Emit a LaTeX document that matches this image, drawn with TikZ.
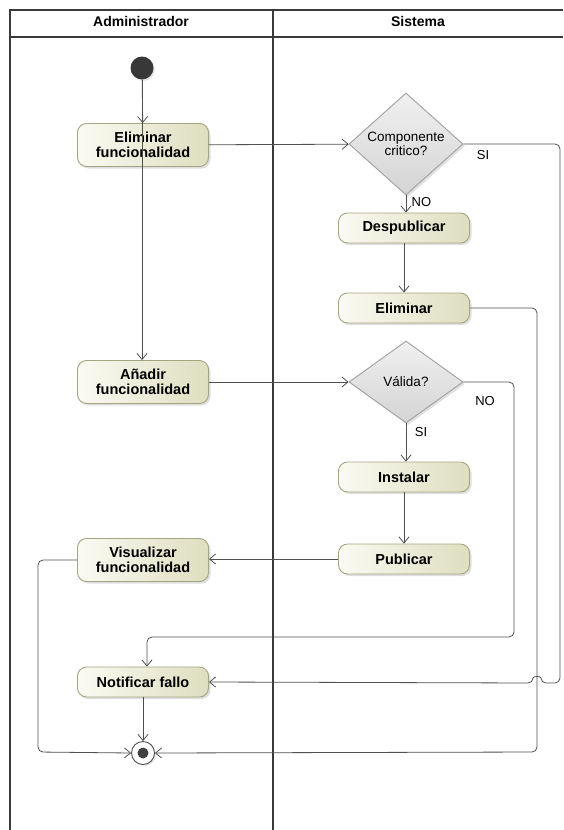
\documentclass[tikz,border=0pt]{standalone}
\usepackage{fontspec}
\setmainfont{Liberation Sans}
\usetikzlibrary{arrows.meta,shapes.geometric,shadows}
\definecolor{lane}{HTML}{3A3A3A}
\definecolor{edge}{HTML}{505050}
\definecolor{actA}{HTML}{FAFAF2}
\definecolor{actB}{HTML}{DEDEC0}
\definecolor{actBorder}{HTML}{A5A582}
\definecolor{decA}{HTML}{F0F0F0}
\definecolor{decB}{HTML}{D4D4D4}
\definecolor{decBorder}{HTML}{A0A0A0}
\tikzset{
  x=1pt, y=-1pt,
  action/.style={rectangle, rounded corners=9pt, draw=actBorder, line width=0.9pt,
    left color=actA, right color=actB, minimum width=131pt, align=center,
    inner sep=2pt, font=\fontsize{14.5}{14.5}\selectfont\bfseries,
    drop shadow={opacity=0.25, shadow xshift=2pt, shadow yshift=-2pt}},
  decision/.style={diamond, draw=decBorder, line width=0.9pt, top color=decA, bottom color=decB,
    inner sep=0pt, aspect=1.1, align=center, font=\fontsize{13.5}{14.5}\selectfont,
    drop shadow={opacity=0.25, shadow xshift=2pt, shadow yshift=-2pt}},
  flow/.style={draw=edge, line width=0.8pt, -{Straight Barb[length=6pt,width=10pt]}},
  guard/.style={font=\fontsize{13}{13}\selectfont},
  lanehead/.style={font=\fontsize{14}{14}\selectfont\bfseries},
}
\begin{document}
\begin{tikzpicture}
\useasboundingbox (0,0) rectangle (563,830);
% swimlanes
\draw[lane, line width=1.4pt] (563,10) -- (10,10) -- (10,830);
\draw[lane, line width=1.4pt] (10,37) -- (563,37);
\draw[lane, line width=2.2pt] (273,10) -- (273,830);
\node[lanehead] (hA) at (141,21) {Administrador};
\node[lanehead] (hS) at (418,21) {Sistema};
% nodes
\node[circle, fill=black!78, minimum size=23pt, inner sep=0pt,
  drop shadow={opacity=0.2, shadow xshift=1.5pt, shadow yshift=-1.5pt}] (init) at (142,68) {};
\node[action, minimum height=43pt] (ef) at (143,145) {Eliminar\\funcionalidad};
\node[action, minimum height=43pt] (af) at (143,382) {Añadir\\funcionalidad};
\node[action, minimum height=43pt] (vf) at (143,560) {Visualizar\\funcionalidad};
\node[action, minimum height=30pt] (nf) at (143,682) {Notificar fallo};
\node[action, minimum height=30pt] (dp) at (404,228) {Despublicar};
\node[action, minimum height=30pt] (el) at (404,308) {Eliminar};
\node[action, minimum height=30pt] (in) at (404,477) {Instalar};
\node[action, minimum height=30pt] (pu) at (404,559) {Publicar};
\node[decision, minimum width=114pt, minimum height=102pt] (d1) at (406,144) {Componente\\critico?};
\node[decision, minimum width=114pt, minimum height=82pt] (d2) at (406,382) {Válida?};
\node[circle, draw=edge, line width=0.9pt, fill=white, minimum size=23pt, inner sep=0pt,
  drop shadow={opacity=0.2, shadow xshift=1.5pt, shadow yshift=-1.5pt}] (fin) at (143,753) {};
\node[circle, fill=black!75, minimum size=11pt, inner sep=0pt] (findot) at (fin) {};
% edges
\draw[flow] (init) -- (ef);
\draw[flow] (init) -- (init |- af.north);
\draw[flow] (ef) -- (d1);
\draw[flow] (d1) -- node[guard, pos=0.4, right=2pt] (lNO1) {NO} (d1.south |- dp.north);
\draw[flow] (dp.south -| 404,0) -- (el);
\draw[flow, rounded corners=5pt] (d1.east) -- (560,144) -- (560,683) -- (541,683)
  .. controls (541,676) and (533,676) .. (533,683) -- (nf.east);
\node[guard] (lSI1) at (483,155) {SI};
\draw[flow, rounded corners=5pt] (el.east) -- (537,308) -- (537,752) -- (fin.east);
\draw[flow] (af) -- (d2);
\draw[flow, rounded corners=5pt] (d2.east) -- (514,382) -- (514,637) -- (147,637) -- ([xshift=4pt]nf.north);
\node[guard] (lNO2) at (485,401) {NO};
\draw[flow] (d2.south) -- (d2.south |- in.north);
\node[guard] (lSI2) at (421,432) {SI};
\draw[flow] (in) -- (pu);
\draw[flow] (pu) -- (pu -| vf.east);
\draw[flow, rounded corners=5pt] (vf.west) -- (38,560) -- (38,752) -- (fin.west);
\draw[flow] (nf) -- (fin);
\end{tikzpicture}
\end{document}
